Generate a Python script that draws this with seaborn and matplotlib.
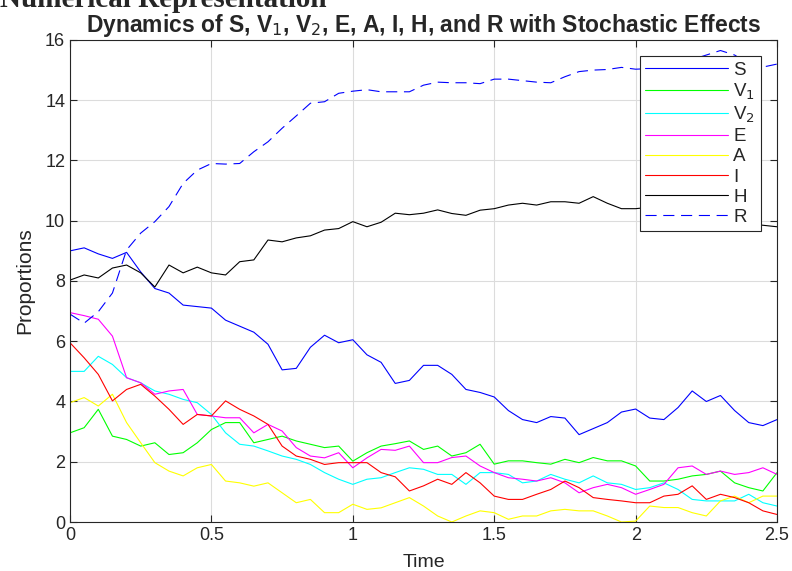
import numpy as np
import pandas as pd
import seaborn as sns
import matplotlib
matplotlib.use("Agg")
import matplotlib.pyplot as plt

sns.set_style("ticks")
plt.rcParams['font.family'] = ['Liberation Sans', 'DejaVu Sans']

# time grid (step 0.05)
time = np.linspace(0, 2.5, 51)

S = [9.0, 9.1, 8.9, 8.75, 8.95, 8.3, 7.75, 7.6, 7.2, 7.15, 7.1, 6.7, 6.5, 6.3, 5.9, 5.05, 5.1,
     5.8, 6.2, 5.95, 6.05, 5.55, 5.3, 4.6, 4.7, 5.2, 5.2, 4.9, 4.4, 4.3, 4.15, 3.7, 3.4, 3.3,
     3.5, 3.45, 2.9, 3.1, 3.3, 3.65, 3.75, 3.45, 3.4, 3.8, 4.35, 4.0, 4.2, 3.7, 3.3, 3.2, 3.4]
V1 = [2.96, 3.13, 3.74, 2.85, 2.74, 2.52, 2.63, 2.24, 2.3, 2.63, 3.07, 3.3, 3.3, 2.63, 2.74,
      2.85, 2.69, 2.58, 2.47, 2.52, 2.02, 2.3, 2.52, 2.6, 2.69, 2.41, 2.52, 2.19, 2.3, 2.58,
      1.92, 2.03, 2.03, 1.97, 1.92, 2.08, 1.97, 2.14, 2.03, 2.03, 1.86, 1.36, 1.36, 1.42, 1.53,
      1.58, 1.69, 1.3, 1.14, 1.03, 1.64]
V2 = [5.0, 5.0, 5.5, 5.23, 4.79, 4.62, 4.35, 4.24, 4.07, 3.96, 3.57, 2.96, 2.58, 2.52, 2.36,
      2.19, 2.08, 1.91, 1.64, 1.42, 1.25, 1.42, 1.47, 1.64, 1.8, 1.75, 1.58, 1.58, 1.25, 1.64,
      1.64, 1.58, 1.3, 1.36, 1.58, 1.42, 1.3, 1.53, 1.3, 1.25, 1.08, 1.14, 1.3, 1.08, 0.75,
      0.7, 0.7, 0.7, 0.92, 0.64, 0.53]
E = [6.95, 6.85, 6.73, 6.17, 4.79, 4.62, 4.24, 4.35, 4.4, 3.57, 3.52, 3.46, 3.46, 2.96, 3.24,
     3.02, 2.47, 2.19, 2.13, 2.3, 1.8, 2.13, 2.41, 2.38, 2.52, 1.97, 1.97, 2.14, 2.19, 1.86,
     1.64, 1.47, 1.42, 1.36, 1.47, 1.3, 0.97, 1.14, 1.25, 1.14, 0.92, 1.08, 1.25, 1.8, 1.86,
     1.58, 1.69, 1.58, 1.64, 1.8, 1.58]
A = [3.96, 4.13, 3.85, 4.24, 3.3, 2.63, 1.97, 1.69, 1.53, 1.8, 1.91, 1.36, 1.3, 1.19, 1.3,
     0.97, 0.64, 0.75, 0.31, 0.31, 0.59, 0.42, 0.47, 0.64, 0.81, 0.53, 0.2, 0.0, 0.2, 0.37,
     0.31, 0.09, 0.2, 0.2, 0.37, 0.42, 0.37, 0.37, 0.2, 0.0, 0.03, 0.53, 0.48, 0.48, 0.31,
     0.2, 0.7, 0.86, 0.64, 0.86, 0.86]
I = [5.95, 5.45, 4.9, 4.02, 4.4, 4.57, 4.18, 3.74, 3.24, 3.57, 3.52, 4.02, 3.74, 3.52, 3.24,
     2.52, 2.19, 2.08, 1.91, 1.97, 1.97, 1.97, 1.64, 1.5, 1.03, 1.2, 1.42, 1.25, 1.64, 1.3,
     0.86, 0.75, 0.75, 0.92, 1.08, 1.36, 1.14, 0.81, 0.75, 0.7, 0.64, 0.64, 0.86, 0.92, 1.2,
     0.75, 0.92, 0.81, 0.64, 0.37, 0.25]
H = [8.03, 8.2, 8.1, 8.43, 8.53, 8.27, 7.8, 8.53, 8.27, 8.46, 8.27, 8.2, 8.64, 8.7, 9.36,
     9.3, 9.43, 9.5, 9.69, 9.74, 9.97, 9.8, 9.95, 10.25, 10.2, 10.25, 10.36, 10.24, 10.18,
     10.35, 10.4, 10.52, 10.58, 10.52, 10.63, 10.63, 10.58, 10.8, 10.58, 10.4, 10.4, 10.45,
     10.6, 10.7, 10.6, 10.5, 10.3, 10.1, 9.9, 9.85, 9.8]
R = [6.9, 6.6, 6.98, 7.6, 9.03, 9.59, 9.97, 10.47, 11.24, 11.68, 11.9, 11.88, 11.9, 12.29,
     12.62, 13.07, 13.48, 13.9, 13.95, 14.23, 14.3, 14.35, 14.28, 14.28, 14.28, 14.5, 14.6,
     14.58, 14.58, 14.55, 14.7, 14.7, 14.65, 14.6, 14.58, 14.78, 14.95, 15.0, 15.02, 15.09,
     15.03, 15.05, 15.1, 15.2, 15.35, 15.5, 15.65, 15.5, 15.2, 15.1, 15.2]

names = ['S', 'V$_1$', 'V$_2$', 'E', 'A', 'I', 'H', 'R']
series = [S, V1, V2, E, A, I, H, R]
colors = ['#0000ff', '#00ff00', '#00ffff', '#ff00ff', '#ffff00', '#ff0000', '#000000', '#0000ff']
styles = ['-', '-', '-', '-', '-', '-', '-', (0, (10, 6))]

fig = plt.figure(figsize=(7.92, 5.71), dpi=100)
ax = fig.add_axes([0.0884, 0.0858, 0.8927, 0.8442])

for name, vals, c, ls in zip(names, series, colors, styles):
    df = pd.DataFrame({'Time': time, 'value': vals})
    sns.lineplot(data=df, x='Time', y='value', ax=ax, color=c, linestyle=ls,
                 linewidth=0.8, label=name)

ax.set_xlim(0, 2.5)
ax.set_ylim(0, 16)
ax.set_xticks([0, 0.5, 1, 1.5, 2, 2.5])
ax.set_xticklabels(['0', '0.5', '1', '1.5', '2', '2.5'])
ax.set_yticks(range(0, 17, 2))
ax.grid(True, color='#dcdcdc', linewidth=0.8)
ax.tick_params(direction='in', length=5, width=0.8, labelsize=13, colors='#262626',
               top=True, right=True, labelcolor='#262626')
for sp in ax.spines.values():
    sp.set_color('#262626')
    sp.set_linewidth(0.8)

ax.set_xlabel('Time', fontsize=14, color='#262626', labelpad=7)
ax.set_ylabel('Proportions', fontsize=15, color='#262626', labelpad=8)
ax.set_title('Dynamics of S, V$_1$, V$_2$, E, A, I, H, and R with Stochastic Effects',
             fontsize=16.5, fontweight='bold', pad=6)

leg = ax.legend(loc='upper right', bbox_to_anchor=(0.977, 0.967), borderaxespad=0,
                fontsize=13.5, handlelength=4.4, labelspacing=0.16, borderpad=0.3,
                handletextpad=0.3, fancybox=False, framealpha=1, edgecolor='#262626')
leg.get_frame().set_linewidth(0.8)

fig.text(0.0, 1 - 7 / 571, 'Numerical Representation', family='Liberation Serif',
         fontweight='bold', fontsize=21, va='baseline', ha='left')

fig.savefig('out.png', dpi=100)
